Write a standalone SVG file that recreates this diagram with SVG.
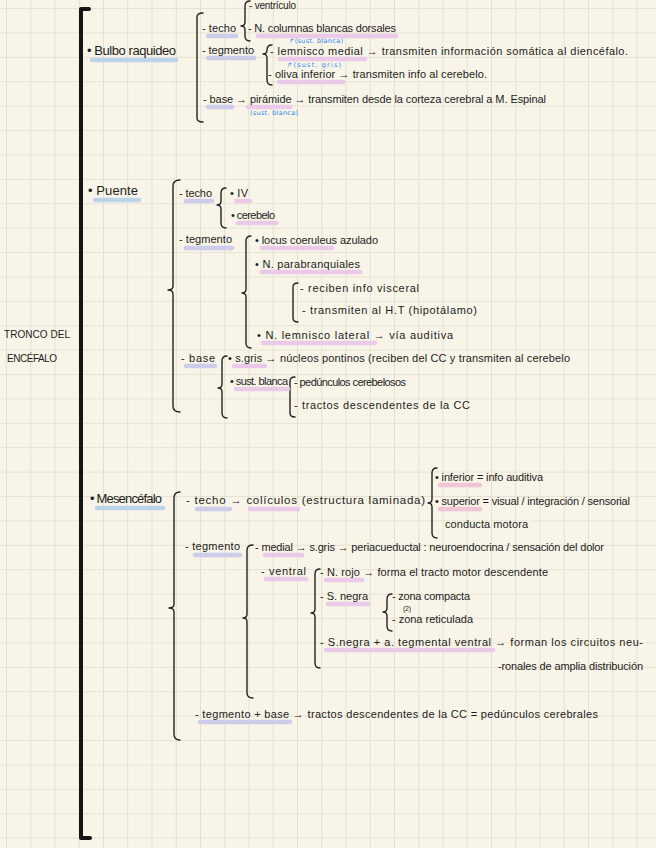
<svg xmlns="http://www.w3.org/2000/svg" width="656" height="848" viewBox="0 0 656 848">
<defs>
<pattern id="grid" patternUnits="userSpaceOnUse" x="6" y="8" width="24.25" height="24.4">
<path d="M0,0 H24.25 M0,0 V24.4" stroke="#e2ddcd" stroke-width="1.7" fill="none"/>
</pattern>
<style>
.t{font-family:"Liberation Sans","DejaVu Sans",sans-serif;font-size:11px;fill:#1c1c1c}
.h{font-size:13px}
.s{font-size:10px}
.m{font-size:11.5px}
.b{font-family:"DejaVu Sans","Liberation Sans",sans-serif;font-size:6.5px;fill:#2f86f2}
.br{fill:none;stroke:#222;stroke-width:1.4;stroke-linecap:round;stroke-linejoin:round}
.big{fill:none;stroke:#151515;stroke-width:4;stroke-linecap:round;stroke-linejoin:round}
.hl{fill:none;stroke-width:4.5;stroke-linecap:round}
.blue{stroke:#bcd4ea}
.lav{stroke:#cdcceb}
.pink{stroke:#ebc9e8}
.rose{stroke:#f3c4d6}
</style>
</defs>
<rect width="656" height="848" fill="#f8f5e8"/>
<rect width="656" height="848" fill="url(#grid)"/>

<g id="connectors">
<path class="big" d="M89,9 L81,9 L81,838 L90,838"/>
<path class="br" d="M203,13 Q197,13 197,17 L197,118 Q197,122 203,122"/>
<path class="br" d="M250,1 Q245,1 245,6 L245,22 Q245,26 241,26 Q245,26 245,30 L245,36 Q245,41 250,41"/>
<path class="br" d="M272,45 Q267,45 267,50 Q267,54 263,54 Q267,54 267,58 L267,80 Q267,85 272,85"/>
<path class="br" d="M180,180 Q173,180 173,186 L173,286 Q173,290 168,290 Q173,290 173,294 L173,406 Q173,412 180,412"/>
<path class="br" d="M226,188 Q221,188 221,193 L221,201 Q221,205 217,205 Q221,205 221,209 L221,223 Q221,228 226,228"/>
<path class="br" d="M251,236 Q246,236 246,241 L246,289 Q246,293 242,293 Q246,293 246,297 L246,343 Q246,348 251,348"/>
<path class="br" d="M298,283 Q293,283 293,287 L293,318 Q293,322 298,322"/>
<path class="br" d="M227,356 Q222,356 222,361 L222,384 Q222,388 218,388 Q222,388 222,392 L222,413 Q222,418 227,418"/>
<path class="br" d="M295,377 Q290,377 290,381 L290,413 Q290,417 295,417"/>
<path class="br" d="M180,492 Q174,492 174,498 L174,604 Q174,608 169,608 Q174,608 174,612 L174,734 Q174,740 180,740"/>
<path class="br" d="M437,468 Q432,468 432,473 L432,499 Q432,503 428,503 Q432,503 432,507 L432,533 Q432,538 437,538"/>
<path class="br" d="M253,545 Q247,545 247,550 L247,614 Q247,618 243,618 Q247,618 247,622 L247,693 Q247,698 253,698"/>
<path class="br" d="M320,569 Q315,569 315,574 L315,609 Q315,613 311,613 Q315,613 315,617 L315,663 Q315,668 320,668"/>
<path class="br" d="M392,594 Q387,594 387,599 L387,608 Q387,612 383,612 Q387,612 387,616 L387,626 Q387,631 392,631"/>
</g>

<g id="tronco">
<text class="t s" x="4" y="338" textLength="66">TRONCO DEL</text>
<text class="t s" x="7" y="362" textLength="50">ENCÉFALO</text>
</g>

<g id="bulbo">
<path class="hl blue" d="M92,60 H176"/>
<text class="t h" x="87" y="55" textLength="89">• Bulbo raquideo</text>
</g>
<g id="bulbo-techo">
<path class="hl lav" d="M208,36 H236"/>
<text class="t" x="202" y="32" textLength="34">- techo</text>
<path class="hl pink" d="M258,36 H396"/>
<text class="t s" x="249" y="9" textLength="47">- ventrículo</text>
<text class="t" x="248" y="32" textLength="148">- N. columnas blancas dorsales</text>
</g>
<g id="bulbo-tegmento">
<path class="hl lav" d="M208,58 H254"/>
<text class="t" x="202" y="54" textLength="52">- tegmento</text>
<path class="hl pink" d="M280,59 H365"/>
<text class="b" x="289" y="43" textLength="54">↱(sust. blanca)</text>
<text class="t" x="270" y="55" textLength="358">- lemnisco medial → transmiten información somática al diencéfalo.</text>
<path class="hl pink" d="M279,82 H343"/>
<text class="b" x="287" y="67" textLength="54">↱(sust. gris)</text>
<text class="t" x="268" y="78" textLength="219">- oliva inferior → transmiten info al cerebelo.</text>
</g>
<g id="bulbo-base">
<path class="hl lav" d="M208,107 H232"/>
<path class="hl pink" d="M248,107 H290"/>
<text class="t" x="203" y="103" textLength="343">- base → pirámide → transmiten desde la corteza cerebral a M. Espinal</text>
<text class="b" x="250" y="115" textLength="48">(sust. blanca)</text>
</g>

<g id="puente">
<path class="hl blue" d="M95,200 H139"/>
<text class="t h" x="88" y="195" textLength="50">• Puente</text>
</g>
<g id="puente-techo">
<path class="hl lav" d="M186,201 H212"/>
<text class="t" x="179" y="197" textLength="33">- techo</text>
<path class="hl pink" d="M236,201 H250"/>
<text class="t" x="230" y="197" textLength="18">• IV</text>
<path class="hl pink" d="M238,223 H276"/>
<text class="t" x="231" y="219" textLength="44">• cerebelo</text>
</g>
<g id="puente-tegmento">
<path class="hl lav" d="M186,248 H232"/>
<text class="t" x="179" y="243" textLength="53">- tegmento</text>
<path class="hl pink" d="M262,248 H332"/>
<text class="t" x="255" y="244" textLength="123">• locus coeruleus azulado</text>
<path class="hl pink" d="M262,272 H360"/>
<text class="t" x="255" y="268" textLength="105">• N. parabranquiales</text>
<text class="t" x="300" y="292" textLength="119">- reciben info visceral</text>
<text class="t" x="302" y="314" textLength="175">- transmiten al H.T (hipotálamo)</text>
<path class="hl pink" d="M263,343 H375"/>
<text class="t" x="257" y="339" textLength="196">• N. lemnisco lateral → vía auditiva</text>
</g>
<g id="puente-base">
<path class="hl lav" d="M186,366 H215"/>
<text class="t" x="181" y="362" textLength="34">- base</text>
<path class="hl pink" d="M234,366 H265"/>
<text class="t" x="228" y="362" textLength="342">• s.gris → núcleos pontinos (reciben del CC y transmiten al cerebelo</text>
<path class="hl pink" d="M236,389 H288"/>
<text class="t" x="230" y="385" textLength="58">• sust. blanca</text>
<text class="t" x="294" y="386" textLength="112">- pedúnculos cerebelosos</text>
<text class="t" x="294" y="409" textLength="176">- tractos descendentes de la CC</text>
</g>

<g id="mesencefalo">
<path class="hl blue" d="M97,508 H163"/>
<text class="t h" x="90" y="503" textLength="72">• Mesencéfalo</text>
</g>
<g id="mes-techo">
<path class="hl lav" d="M197,509 H230"/>
<path class="hl pink" d="M250,509 H298"/>
<text class="t m" x="186" y="504" textLength="239">- techo → colículos (estructura laminada)</text>
<path class="hl rose" d="M440,485 H480"/>
<text class="t" x="435" y="481" textLength="108">• inferior = info auditiva</text>
<path class="hl rose" d="M440,509 H480"/>
<text class="t" x="435" y="505" textLength="195">• superior = visual / integración / sensorial</text>
<text class="t" x="445" y="528" textLength="83">conducta motora</text>
</g>
<g id="mes-tegmento">
<path class="hl lav" d="M195,555 H240"/>
<text class="t" x="185" y="550" textLength="55">- tegmento</text>
<path class="hl pink" d="M265,555 H302"/>
<text class="t" x="255" y="551" textLength="349">- medial → s.gris → periacueductal : neuroendocrina / sensación del dolor</text>
<path class="hl pink" d="M266,579 H306"/>
<text class="t" x="261" y="575" textLength="45">- ventral</text>
<path class="hl pink" d="M326,580 H362"/>
<text class="t" x="320" y="576" textLength="228">- N. rojo → forma el tracto motor descendente</text>
<path class="hl pink" d="M328,604 H368"/>
<text class="t" x="320" y="600" textLength="48">- S. negra</text>
<text class="t" x="392" y="600" textLength="78">- zona compacta</text>
<text class="t" x="403" y="611" style="font-size:7px" textLength="8">(2)</text>
<text class="t" x="392" y="623" textLength="81">- zona reticulada</text>
<path class="hl pink" d="M326,650 H493"/>
<text class="t" x="320" y="646" textLength="323">- S.negra + a. tegmental ventral → forman los circuitos neu-</text>
<text class="t" x="498" y="670" textLength="145">-ronales de amplia distribución</text>
</g>
<g id="mes-tegmento-base">
<path class="hl lav" d="M200,722 H290"/>
<text class="t" x="195" y="718" textLength="403">- tegmento + base → tractos descendentes de la CC = pedúnculos cerebrales</text>
</g>
</svg>
